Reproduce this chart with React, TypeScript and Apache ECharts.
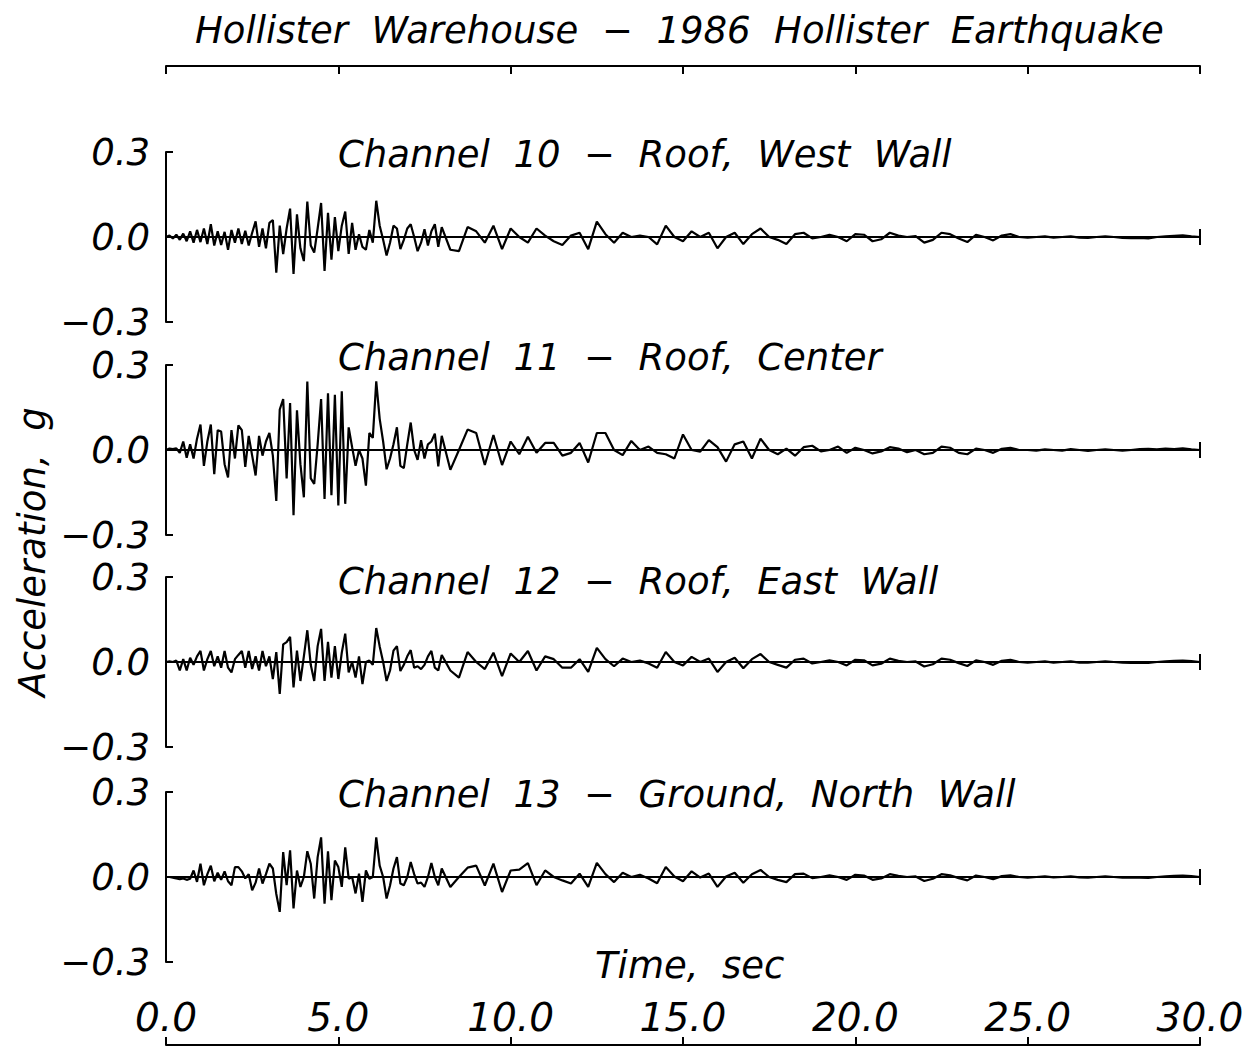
import React, { useEffect, useRef } from "react";
import * as echarts from "echarts";

// Sampling times (s): 0.1 s steps to 8 s, then 0.25 s steps to 30 s
const timeSec = [
  0.0, 0.1, 0.2, 0.3, 0.4, 0.5, 0.6, 0.7, 0.8, 0.9,
  1.0, 1.1, 1.2, 1.3, 1.4, 1.5, 1.6, 1.7, 1.8, 1.9,
  2.0, 2.1, 2.2, 2.3, 2.4, 2.5, 2.6, 2.7, 2.8, 2.9,
  3.0, 3.1, 3.2, 3.3, 3.4, 3.5, 3.6, 3.7, 3.8, 3.9,
  4.0, 4.1, 4.2, 4.3, 4.4, 4.5, 4.6, 4.7, 4.8, 4.9,
  5.0, 5.1, 5.2, 5.3, 5.4, 5.5, 5.6, 5.7, 5.8, 5.9,
  6.0, 6.1, 6.2, 6.3, 6.4, 6.5, 6.6, 6.7, 6.8, 6.9,
  7.0, 7.1, 7.2, 7.3, 7.4, 7.5, 7.6, 7.7, 7.8, 7.9,
  8.0,
  8.25, 8.5, 8.75, 9.0,
  9.25, 9.5, 9.75, 10.0,
  10.25, 10.5, 10.75, 11.0,
  11.25, 11.5, 11.75, 12.0,
  12.25, 12.5, 12.75, 13.0,
  13.25, 13.5, 13.75, 14.0,
  14.25, 14.5, 14.75, 15.0,
  15.25, 15.5, 15.75, 16.0,
  16.25, 16.5, 16.75, 17.0,
  17.25, 17.5, 17.75, 18.0,
  18.25, 18.5, 18.75, 19.0,
  19.25, 19.5, 19.75, 20.0,
  20.25, 20.5, 20.75, 21.0,
  21.25, 21.5, 21.75, 22.0,
  22.25, 22.5, 22.75, 23.0,
  23.25, 23.5, 23.75, 24.0,
  24.25, 24.5, 24.75, 25.0,
  25.25, 25.5, 25.75, 26.0,
  26.25, 26.5, 26.75, 27.0,
  27.25, 27.5, 27.75, 28.0,
  28.25, 28.5, 28.75, 29.0,
  29.25, 29.5, 29.75, 30.0,
];

// Channel 10 - Roof, West Wall (g)
const ch10RoofWest = [
  0, 0.005, -0.005, 0.008, -0.01, 0.012, -0.015, 0.02, -0.02, 0.025,
  -0.018, 0.03, -0.025, 0.045, -0.03, 0.02, -0.028, 0.018, -0.045, 0.025,
  -0.02, 0.03, -0.025, 0.022, -0.03, 0.015, 0.055, -0.035, 0.03, -0.04,
  0.05, 0.06, -0.126, 0.04, -0.06, 0.03, 0.1, -0.13, 0.08, -0.04,
  -0.085, 0.125, -0.03, -0.055, 0.03, 0.12, -0.12, 0.085, -0.08, 0.07,
  -0.05, 0.04, 0.09, -0.06, 0.05, -0.045, 0.01, -0.035, -0.045, 0.025,
  -0.02, 0.128, 0.04, -0.01, -0.065, -0.02, 0.04, 0.03, -0.043, -0.01,
  0.03, 0.045, 0.0, -0.05, -0.02, 0.027, -0.03, 0.02, 0.045, -0.035,
  0.035,
  -0.045, -0.05, 0.035, 0.02,
  -0.02, 0.04, -0.043, 0.03,
  0.0, -0.02, 0.03, 0.005,
  -0.015, -0.028, 0.005, 0.015,
  -0.043, 0.054, 0.01, -0.02,
  0.015, 0.0, 0.005, 0.0,
  -0.026, 0.04, 0.0, -0.015,
  0.02, 0.0, 0.015, -0.04,
  0.0, 0.015, -0.025, 0.01,
  0.03, 0.0, -0.01, -0.025,
  0.01, 0.015, -0.005, 0.0,
  0.008, 0.0, -0.015, 0.01,
  0.008, -0.015, -0.008, 0.015,
  0.005, 0.0, 0.003, -0.02,
  -0.01, 0.015, 0.01, -0.005,
  -0.018, 0.008, 0.0, -0.012,
  0.005, 0.01, 0.0, -0.002,
  0.0, 0.002, -0.002, 0.0,
  0.002, -0.002, -0.003, 0.0,
  0.002, 0.0, -0.003, -0.004,
  -0.003, -0.005, 0.0, 0.002,
  0.004, 0.006, 0.002, 0.0,
];

// Channel 11 - Roof, Center (g)
const ch11RoofCenter = [
  0, 0.005, 0.003, 0.006, -0.01, 0.03, -0.027, 0.02, -0.03, 0.04,
  0.09, -0.056, 0.03, 0.09, -0.085, 0.07, 0.065, -0.05, -0.097, 0.07,
  -0.03, 0.087, 0.07, -0.06, 0.05, -0.02, -0.09, 0.05, -0.02, 0.03,
  0.06, -0.02, -0.18, 0.143, 0.18, -0.1, 0.166, -0.23, 0.14, -0.05,
  -0.167, 0.242, -0.1, -0.12, 0.02, 0.18, -0.173, 0.2, -0.16, 0.195,
  -0.196, 0.207, -0.19, 0.08, 0.01, -0.056, 0.0, -0.03, -0.126, 0.06,
  0.043, 0.242, 0.11, 0.03, -0.068, -0.03, 0.02, 0.08, -0.056, -0.064,
  0.02, 0.097, 0.0, -0.035, 0.035, -0.03, 0.02, 0.03, 0.058, -0.058,
  0.05,
  -0.07, 0.0, 0.072, 0.06,
  -0.053, 0.053, -0.053, 0.03,
  -0.015, 0.047, -0.01, 0.025,
  0.025, -0.02, -0.01, 0.025,
  -0.044, 0.06, 0.06, 0.0,
  -0.018, 0.032, 0.0, 0.012,
  -0.01, -0.015, -0.03, 0.055,
  0.0, -0.006, 0.035, 0.01,
  -0.041, 0.02, 0.03, -0.03,
  0.04, 0.0, -0.015, 0.005,
  -0.02, 0.01, 0.015, -0.005,
  0.0, 0.012, -0.01, 0.008,
  0.0, -0.012, -0.005, 0.01,
  0.005, -0.008, 0.0, -0.015,
  -0.01, 0.012, 0.008, -0.01,
  -0.015, 0.005, 0.0, -0.01,
  0.004, 0.008, 0.0, 0.0,
  -0.002, 0.002, 0.0, -0.002,
  0.003, 0.0, -0.003, 0.0,
  0.002, 0.0, -0.002, 0.0,
  0.003, 0.004, 0.002, 0.005,
  0.003, 0.006, 0.002, 0.0,
];

// Channel 12 - Roof, East Wall (g)
const ch12RoofEast = [
  0, 0.002, 0.0, 0.005, -0.03, 0.01, -0.03, 0.015, -0.01, 0.02,
  0.039, -0.03, 0.01, 0.039, -0.015, 0.02, -0.02, 0.039, -0.02, -0.037,
  0.01, 0.025, 0.039, -0.02, 0.039, -0.025, 0.02, -0.03, 0.039, -0.015,
  0.02, -0.06, 0.035, -0.113, 0.062, 0.07, 0.089, -0.09, 0.04, -0.067,
  0.02, 0.112, -0.01, -0.067, 0.056, 0.117, -0.067, 0.071, -0.055, 0.056,
  -0.06, 0.033, 0.1, -0.037, 0.0, -0.055, 0.02, -0.078, 0.0, 0.005,
  -0.01, 0.12, 0.055, 0.0, -0.067, -0.03, 0.04, 0.056, -0.032, -0.01,
  0.02, 0.042, -0.02, -0.015, -0.025, -0.01, 0.02, 0.039, -0.02, -0.03,
  0.025,
  -0.03, -0.055, 0.035, 0.0,
  -0.025, 0.033, -0.05, 0.03,
  0.0, 0.039, -0.03, 0.02,
  0.01, -0.02, -0.02, 0.01,
  -0.035, 0.05, 0.01, -0.015,
  0.012, 0.0, 0.005, -0.005,
  -0.02, 0.035, 0.0, -0.012,
  0.018, 0.0, 0.012, -0.035,
  0.0, 0.015, -0.022, 0.01,
  0.028, 0.0, -0.01, -0.02,
  0.008, 0.012, -0.005, 0.0,
  0.006, 0.0, -0.012, 0.008,
  0.006, -0.012, -0.006, 0.012,
  0.004, 0.0, 0.002, -0.016,
  -0.008, 0.012, 0.008, -0.004,
  -0.014, 0.006, 0.0, -0.01,
  0.004, 0.008, 0.0, -0.002,
  0.0, 0.002, -0.002, 0.0,
  0.002, -0.002, -0.002, 0.0,
  0.002, 0.0, -0.002, -0.003,
  -0.002, -0.003, 0.0, 0.002,
  0.004, 0.005, 0.003, 0.0,
];

// Channel 13 - Ground, North Wall (g)
const ch13GroundNorth = [
  0, 0.0, -0.002, -0.005, -0.008, -0.005, -0.01, -0.006, 0.023, -0.017,
  0.047, -0.029, 0.01, 0.04, -0.015, 0.015, -0.01, 0.02, -0.015, -0.029,
  0.035, 0.035, 0.02, -0.005, 0.01, -0.047, -0.02, 0.03, -0.023, 0.01,
  0.047, 0.03, -0.06, -0.123, 0.088, -0.029, 0.094, -0.111, 0.023, -0.035,
  0.0, 0.091, 0.047, -0.076, 0.07, 0.14, -0.094, 0.091, -0.082, 0.058,
  0.035, -0.035, 0.105, -0.006, 0.0, -0.058, 0.012, -0.088, 0.023, -0.006,
  0.0, 0.14, 0.04, 0.0, -0.076, -0.03, 0.03, 0.07, -0.023, -0.029,
  0.0, 0.053, 0.01, -0.023, -0.02, -0.035, 0.0, 0.049, 0.0, -0.029,
  0.03,
  -0.035, 0.0, 0.033, 0.04,
  -0.03, 0.047, -0.053, 0.023,
  0.026, 0.049, -0.029, 0.023,
  0.0, -0.012, -0.023, 0.012,
  -0.035, 0.05, 0.01, -0.018,
  0.015, 0.0, 0.008, -0.005,
  -0.022, 0.035, 0.002, -0.015,
  0.02, -0.002, 0.012, -0.035,
  0.002, 0.015, -0.02, 0.01,
  0.025, 0.0, -0.01, -0.018,
  0.01, 0.012, -0.004, 0.0,
  0.006, 0.0, -0.01, 0.008,
  0.005, -0.01, -0.005, 0.01,
  0.004, 0.0, 0.002, -0.014,
  -0.006, 0.01, 0.006, -0.004,
  -0.012, 0.005, 0.0, -0.008,
  0.003, 0.006, 0.0, -0.002,
  0.0, 0.002, -0.001, 0.0,
  0.002, -0.001, -0.002, 0.0,
  0.002, 0.0, -0.002, -0.002,
  -0.002, -0.003, 0.0, 0.002,
  0.004, 0.005, 0.003, 0.0,
];

const channelTitles = [
  "Channel  10  \u2212  Roof,  West  Wall",
  "Channel  11  \u2212  Roof,  Center",
  "Channel  12  \u2212  Roof,  East  Wall",
  "Channel  13  \u2212  Ground,  North  Wall",
];
const chartTitle = "Hollister  Warehouse  \u2212  1986  Hollister  Earthquake";
const xAxisTitle = "Time,  sec";
const yAxisTitle = "Acceleration,  g";

const channels = [ch10RoofWest, ch11RoofCenter, ch12RoofEast, ch13GroundNorth];

const FONT = "'DejaVu Sans', 'Liberation Sans', sans-serif";
const WEIGHT = 200;
const INK = "#000";
const gridTops = [152, 365, 577, 792];
const gridHeight = 170;
const channelLabelY = [154, 357, 581, 794];

function fmtY(v: number): string {
  if (Math.abs(v) < 1e-9) return "0.0";
  const s = v.toFixed(1);
  return s.replace("-", "\u2212");
}

export default function App() {
  const ref = useRef<HTMLDivElement>(null);

  useEffect(() => {
    if (!ref.current) return;
    const chart = echarts.init(ref.current, null, { renderer: "svg" });
    const axisLineStyle = { color: INK, width: 2 };
    const textBase = {
      fontFamily: FONT,
      fontStyle: "italic",
      fontWeight: WEIGHT,
      fill: INK,
    };

    const option: any = {
      animation: false,
      backgroundColor: "#fff",
      grid: gridTops.map((top) => ({ left: 166, width: 1034, top, height: gridHeight })),
      xAxis: gridTops.map((_, i) => ({
        type: "value",
        gridIndex: i,
        min: 0,
        max: 30,
        interval: 5,
        show: i === 0 || i === 3,
        position: i === 0 ? "top" : "bottom",
        offset: i === 0 ? 86 : 83,
        axisLine: { show: true, onZero: false, lineStyle: axisLineStyle },
        axisTick: { show: true, inside: true, length: 8, lineStyle: axisLineStyle },
        axisLabel:
          i === 3
            ? {
                show: true,
                inside: true,
                margin: 8,
                fontSize: 39,
                fontStyle: "italic",
                fontWeight: WEIGHT,
                fontFamily: FONT,
                color: INK,
                formatter: (v: number) => v.toFixed(1),
              }
            : { show: false },
        splitLine: { show: false },
      })),
      yAxis: gridTops.map((_, i) => ({
        type: "value",
        gridIndex: i,
        min: -0.3,
        max: 0.3,
        interval: 0.3,
        axisLine: { show: true, onZero: false, lineStyle: axisLineStyle },
        axisTick: { show: true, inside: true, length: 7, lineStyle: axisLineStyle },
        axisLabel: {
          show: true,
          margin: 16,
          fontSize: 37,
          fontStyle: "italic",
          fontWeight: WEIGHT,
          fontFamily: FONT,
          color: INK,
          padding: [0, 0, 12, 0],
          formatter: fmtY,
        },
        splitLine: { show: false },
      })),
      series: channels.map((vals, i) => ({
        type: "line",
        name: channelTitles[i],
        xAxisIndex: i,
        yAxisIndex: i,
        data: timeSec.map((t, k) => [t, vals[k]]),
        showSymbol: false,
        symbol: "none",
        lineStyle: { color: INK, width: 2.2 },
        silent: true,
        markLine: {
          silent: true,
          symbol: ["none", "none"],
          label: { show: false },
          emphasis: { disabled: true },
          lineStyle: { color: INK, width: 2, type: "solid" },
          data: [
            { yAxis: 0 },
            [{ coord: [30, -0.028] }, { coord: [30, 0.028] }],
          ],
        },
      })),
      graphic: [
        {
          type: "text",
          x: 195,
          y: 30,
          style: { ...textBase, text: chartTitle, fontSize: 37, align: "left", verticalAlign: "middle" },
        },
        ...channelTitles.map((t, i) => ({
          type: "text",
          x: 338,
          y: channelLabelY[i],
          style: { ...textBase, text: t, fontSize: 37, align: "left", verticalAlign: "middle" },
        })),
        {
          type: "text",
          x: 595,
          y: 965,
          style: { ...textBase, text: xAxisTitle, fontSize: 37, align: "left", verticalAlign: "middle" },
        },
        {
          type: "text",
          x: 32,
          y: 552,
          rotation: Math.PI / 2,
          style: { ...textBase, text: yAxisTitle, fontSize: 37, align: "center", verticalAlign: "middle" },
        },
      ],
    };
    chart.setOption(option);
    return () => chart.dispose();
  }, []);

  return (
    <div
      ref={ref}
      style={{ position: "fixed", left: 0, top: 0, width: 1252, height: 1048, background: "#fff" }}
    />
  );
}
